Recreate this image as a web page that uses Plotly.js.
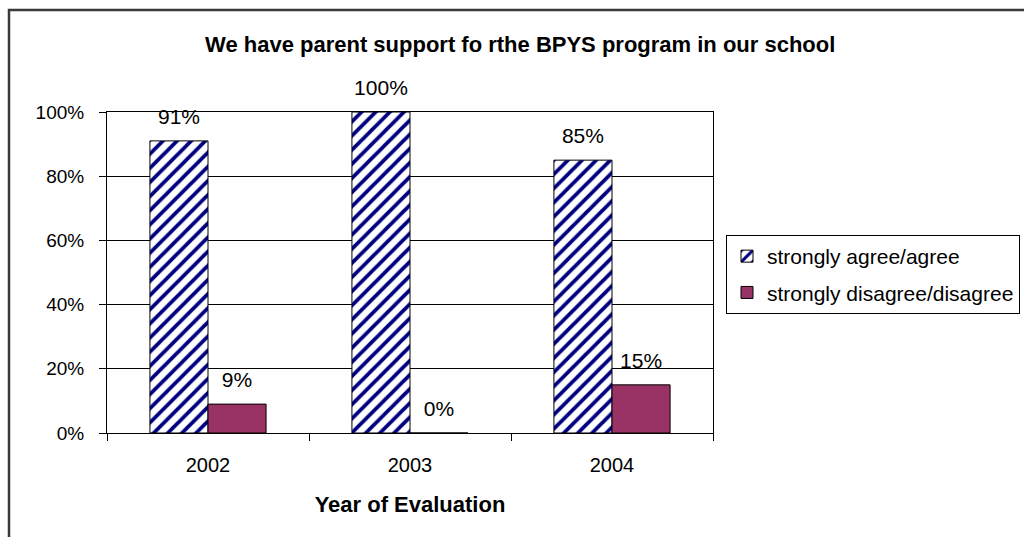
<!DOCTYPE html>
<html>
<head>
<meta charset="utf-8">
<script src="https://cdn.plot.ly/plotly-3.0.1.min.js"></script>
<style>
html,body{margin:0;padding:0;background:#fff;}
#chart{width:1024px;height:537px;}
#chart .bartext{translate:0 -10px;}
</style>
</head>
<body>
<div id="chart"></div>
<script>
const years = ["2002", "2003", "2004"];
const agree = [0.91, 1.00, 0.85];
const disagree = [0.09, 0.00, 0.15];
const seriesNames = ["strongly agree/agree", "strongly disagree/disagree"];

const font = "Liberation Sans, Arial, sans-serif";

const traces = [
  {
    type: "bar", name: seriesNames[0], x: years, y: agree, legendgroup: "a",
    marker: {
      color: "#ffffff",
      line: {color: "#000000", width: 1},
      pattern: {shape: "/", fgcolor: "#000080", bgcolor: "#ffffff", size: 10, solidity: 0.38}
    },
    texttemplate: "%{y:.0%}", textposition: "outside", cliponaxis: false,
    textfont: {family: font, size: 21, color: "#000"}
  },
  {
    type: "bar", name: seriesNames[1], x: years, y: disagree, legendgroup: "b",
    marker: {color: "#993366", line: {color: "#000000", width: 1}},
    texttemplate: "%{y:.0%}", textposition: "outside", cliponaxis: false,
    textfont: {family: font, size: 21, color: "#000"}
  }
];

const layout = {
  width: 1024, height: 537,
  margin: {l: 107, r: 311, t: 112, b: 104, pad: 0, autoexpand: false},
  paper_bgcolor: "#ffffff", plot_bgcolor: "#ffffff",
  font: {family: font, size: 20, color: "#000"},
  barmode: "group", bargap: 0.425, bargroupgap: 0,
  title: {
    text: "<b>We have parent support fo rthe BPYS program in our school</b>",
    font: {family: font, size: 22, color: "#000"},
    xref: "container", x: 0.508, xanchor: "center",
    yref: "container", y: 1 - 44/537, yanchor: "middle"
  },
  xaxis: {
    type: "category", automargin: false,
    showline: true, linecolor: "#000", linewidth: 1, mirror: true,
    ticks: "outside", tickson: "boundaries", ticklen: 7, tickcolor: "#000",
    ticklabelstandoff: 14,
    showgrid: false, zeroline: false,
    tickfont: {family: font, size: 20},
    title: {text: "<b>Year of Evaluation</b>", font: {family: font, size: 22}, standoff: 21}
  },
  yaxis: {
    range: [0, 1], dtick: 0.2, tickformat: ".0%", automargin: false,
    showline: true, linecolor: "#000", linewidth: 1, mirror: true,
    ticks: "outside", ticklen: 7, tickcolor: "#000",
    ticklabelstandoff: 11,
    showgrid: true, gridcolor: "#000", gridwidth: 1, zeroline: false,
    tickfont: {family: font, size: 19}
  },
  legend: {
    x: (726 - 107) / 606, xanchor: "left",
    y: (433 - 235) / 321, yanchor: "top",
    bgcolor: "#fff", bordercolor: "#000", borderwidth: 1,
    font: {family: font, size: 21}, traceorder: "grouped", tracegroupgap: 6,
    itemwidth: 30
  },
  shapes: [
    {type: "rect", xref: "paper", yref: "paper",
     x0: (9 - 107) / 606, x1: 1.6, y0: -0.6, y1: (433 - 10) / 321,
     line: {color: "#3a3a3a", width: 2.5}, fillcolor: "rgba(0,0,0,0)", layer: "below"}
  ],
  showlegend: true
};

Plotly.newPlot("chart", traces, layout, {displayModeBar: false, staticPlot: true});
</script>
</body>
</html>
